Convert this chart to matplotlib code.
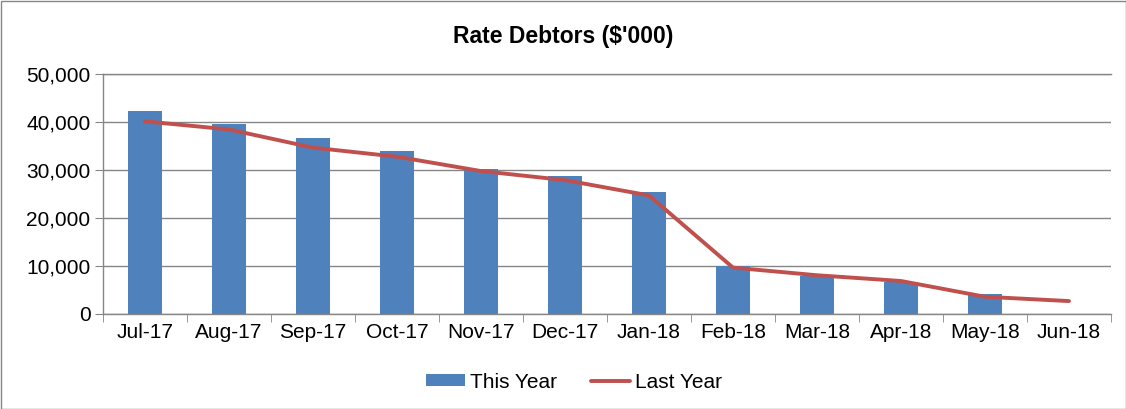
import numpy as np
import matplotlib
matplotlib.use('Agg')
import matplotlib.pyplot as plt
from matplotlib.patches import Rectangle
from matplotlib.ticker import FuncFormatter

months = ['Jul-17', 'Aug-17', 'Sep-17', 'Oct-17', 'Nov-17', 'Dec-17',
          'Jan-18', 'Feb-18', 'Mar-18', 'Apr-18', 'May-18', 'Jun-18']
this_year = [42300, 39700, 36700, 34000, 30300, 28700,
             25500, 10000, 7900, 6600, 4000, np.nan]
last_year = [40200, 38500, 34700, 32800, 29800, 27900,
             24700, 9600, 8000, 6800, 3500, 2600]

plt.rcParams['font.family'] = ['Liberation Sans', 'DejaVu Sans']

fig = plt.figure(figsize=(11.26, 4.09), dpi=100)
ax = fig.add_axes([103/1126, 1 - 313.5/409, (1111-103)/1126, (313.5-74.5)/409])

x = np.arange(len(months))
bars = ax.bar(x, this_year, width=0.4, color='#4F81BD', label='This Year', zorder=2)
line, = ax.plot(x, last_year, color='#C0504D', lw=2.8, solid_capstyle='round',
                label='Last Year', zorder=3)

ax.set_xlim(-0.5, len(months) - 0.5)
ax.set_ylim(0, 50000)
ax.set_yticks(np.arange(0, 50001, 10000))
ax.yaxis.set_major_formatter(FuncFormatter(lambda v, p: '{:,.0f}'.format(v)))
ax.set_xticks(x)
ax.set_xticklabels(months)
ax.set_xticks(np.arange(-0.5, len(months), 1), minor=True)
ax.tick_params(axis='x', which='major', length=0, labelsize=15, pad=7)
ax.tick_params(axis='x', which='minor', length=6, color='#868686', direction='out')
ax.tick_params(axis='y', length=6, color='#868686', labelsize=15, pad=3)
ax.grid(axis='y', color='#868686', lw=1, zorder=0)
ax.axhline(50000, color='#868686', lw=1, clip_on=False, zorder=0)
for s in ['top', 'right']:
    ax.spines[s].set_visible(False)
for s in ['left', 'bottom']:
    ax.spines[s].set_color('#868686')
    ax.spines[s].set_linewidth(1)

fig.text(0.5, 1 - 37/409, "Rate Debtors ($'000)", ha='center', va='center',
         fontsize=16.5, fontweight='bold')

fig.legend([bars, line], ['This Year', 'Last Year'], loc='center',
           bbox_to_anchor=(574/1126, 1 - 382/409), ncol=2, frameon=False,
           fontsize=15, handlelength=1.9, handleheight=0.5,
           handletextpad=0.25, columnspacing=1.6)

fig.patches.append(Rectangle((0.5/1126, 0.5/409), 1 - 1/1126, 1 - 1/409,
                             transform=fig.transFigure, fill=False,
                             edgecolor='#868686', lw=1))

fig.savefig('out.png', dpi=100)
